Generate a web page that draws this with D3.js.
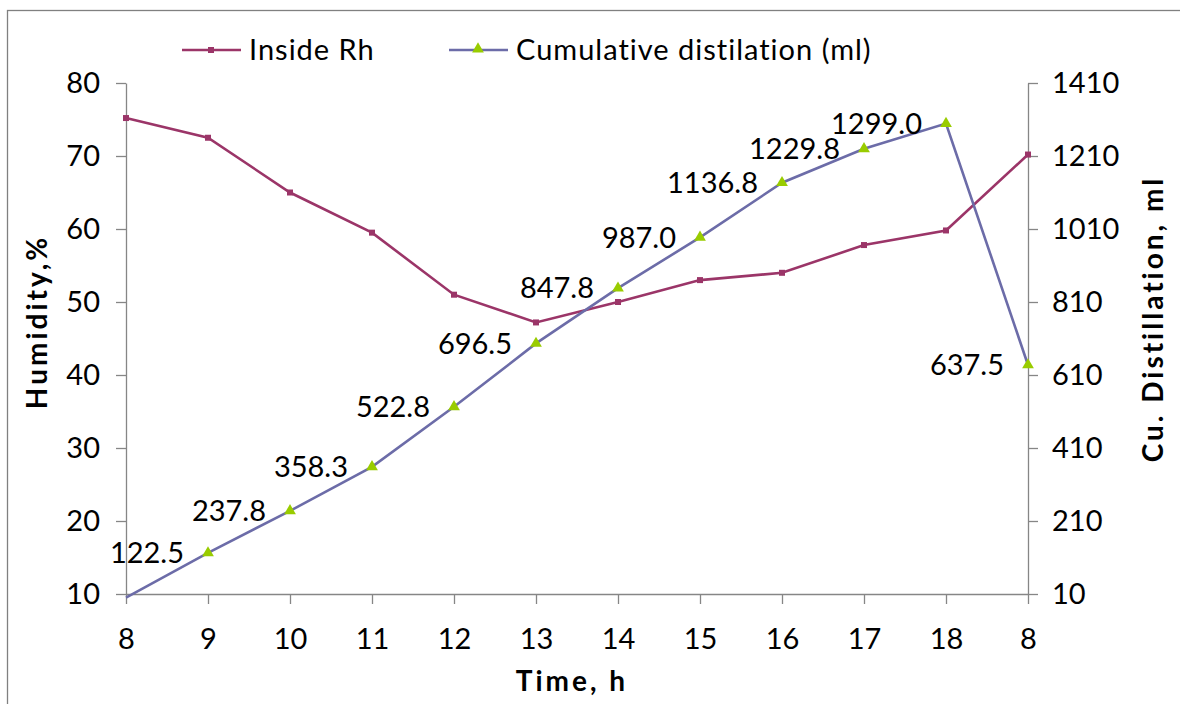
<!DOCTYPE html>
<html>
<head>
<meta charset="utf-8">
<script src="https://cdn.jsdelivr.net/npm/d3@7"></script>
<style>
  body { margin: 0; background: #fff; }
  svg text { font-family: Lato, "Open Sans", sans-serif; fill: #000; }
</style>
</head>
<body>
<div id="chart"></div>
<script>
// categories: time of day (last one is 8 next morning)
var hours = ["8", "9", "10", "11", "12", "13", "14", "15", "16", "17", "18", "8"];
var insideRh = [75.2, 72.5, 65.0, 59.5, 51.0, 47.2, 50.0, 53.0, 54.0, 57.8, 59.8, 70.2];
var distillation = [0, 122.5, 237.8, 358.3, 522.8, 696.5, 847.8, 987.0, 1136.8, 1229.8, 1299.0, 637.5];
var leftTicks = [10, 20, 30, 40, 50, 60, 70, 80];
var rightTicks = [10, 210, 410, 610, 810, 1010, 1210, 1410];

var width = 1180, height = 704;
var plotLeft = 126, plotRight = 1028, plotTop = 83, plotBottom = 594;

var rhColor = "#9b3568";
var distColor = "#6c6ca8";
var triColor = "#99cc00";
var axisColor = "#868686";

var svg = d3.select("#chart").append("svg")
    .attr("width", width)
    .attr("height", height);

// outer frame
svg.append("rect")
    .attr("x", 7.5).attr("y", 10.5)
    .attr("width", width).attr("height", height)
    .attr("fill", "none")
    .attr("stroke", "#808080")
    .attr("stroke-width", 1.3);

var x = d3.scalePoint()
    .domain(d3.range(hours.length))
    .range([plotLeft, plotRight]);

var yLeft = d3.scaleLinear().domain([10, 80]).range([plotBottom, plotTop]);
var yRight = d3.scaleLinear().domain([10, 1410]).range([plotBottom, plotTop]);

// axes
var xAxis = d3.axisBottom(x)
    .tickSize(10)
    .tickSizeOuter(0)
    .tickPadding(26)
    .tickFormat(function(i) { return hours[i]; });

var gx = svg.append("g")
    .attr("transform", "translate(0," + plotBottom + ")")
    .call(xAxis);

var gl = svg.append("g")
    .attr("transform", "translate(" + plotLeft + ",0)")
    .call(d3.axisLeft(yLeft).tickValues(leftTicks).tickSize(10).tickSizeOuter(0).tickPadding(16));

var gr = svg.append("g")
    .attr("transform", "translate(" + plotRight + ",0)")
    .call(d3.axisRight(yRight).tickValues(rightTicks).tickFormat(d3.format("d"))
      .tickSize(10).tickSizeOuter(0).tickPadding(14));

[gx, gl, gr].forEach(function(g) {
  g.select(".domain").attr("stroke", axisColor).attr("stroke-width", 1.3);
  g.selectAll(".tick line").attr("stroke", axisColor).attr("stroke-width", 1.3);
  g.selectAll(".tick text")
      .style("font-family", "Lato, 'Open Sans', sans-serif")
      .attr("font-size", 29)
      .attr("fill", "#000");
});
gx.selectAll(".tick text").attr("dy", "0.66em");

// humidity line
var lineRh = d3.line()
    .x(function(d, i) { return x(i); })
    .y(function(d) { return yLeft(d); });

svg.append("path")
    .datum(insideRh)
    .attr("d", lineRh)
    .attr("fill", "none")
    .attr("stroke", rhColor)
    .attr("stroke-width", 2.6);

svg.selectAll(".rh-mark")
    .data(insideRh)
    .enter().append("rect")
    .attr("class", "rh-mark")
    .attr("x", function(d, i) { return x(i) - 3; })
    .attr("y", function(d) { return yLeft(d) - 3; })
    .attr("width", 6).attr("height", 6)
    .attr("fill", rhColor);

// distillation line
var lineDist = d3.line()
    .x(function(d, i) { return x(i); })
    .y(function(d) { return yRight(d); });

svg.append("path")
    .datum(distillation)
    .attr("d", lineDist)
    .attr("fill", "none")
    .attr("stroke", distColor)
    .attr("stroke-width", 2.6);

var tri = d3.symbol().type(d3.symbolTriangle).size(60);

var shown = distillation.map(function(d, i) { return {v: d, i: i}; })
    .filter(function(d) { return d.v >= 10; });

svg.selectAll(".dist-mark")
    .data(shown)
    .enter().append("path")
    .attr("class", "dist-mark")
    .attr("d", tri)
    .attr("transform", function(d) { return "translate(" + x(d.i) + "," + yRight(d.v) + ")"; })
    .attr("fill", triColor);

svg.selectAll(".dist-label")
    .data(shown)
    .enter().append("text")
    .attr("class", "dist-label")
    .attr("x", function(d) { return x(d.i) - 24; })
    .attr("y", function(d) { return yRight(d.v); })
    .attr("dy", "0.35em")
    .attr("text-anchor", "end")
    .attr("font-size", 29)
    .text(function(d) { return d.v.toFixed(1); });

// axis titles
svg.append("text")
    .attr("transform", "translate(47,322) rotate(-90)")
    .attr("text-anchor", "middle")
    .attr("font-size", 28)
    .attr("font-weight", "bold")
    .attr("letter-spacing", 3)
    .text("Humidity,%");

svg.append("text")
    .attr("transform", "translate(1163,319) rotate(-90)")
    .attr("text-anchor", "middle")
    .attr("font-size", 28)
    .attr("font-weight", "bold")
    .attr("letter-spacing", 3)
    .text("Cu. Distillation, ml");

svg.append("text")
    .attr("x", 572).attr("y", 691)
    .attr("text-anchor", "middle")
    .attr("font-size", 28)
    .attr("font-weight", "bold")
    .attr("letter-spacing", 3)
    .text("Time, h");

// legend
var legend = svg.append("g");
var items = [
  {name: "Inside Rh", x: 182, color: rhColor, mark: "square"},
  {name: "Cumulative distilation (ml)", x: 449, color: distColor, mark: "tri"}
];
items.forEach(function(it) {
  legend.append("line")
      .attr("x1", it.x).attr("x2", it.x + 59)
      .attr("y1", 50).attr("y2", 50)
      .attr("stroke", it.color)
      .attr("stroke-width", 2.6);
  if (it.mark == "square") {
    legend.append("rect")
        .attr("x", it.x + 26).attr("y", 47)
        .attr("width", 6).attr("height", 6)
        .attr("fill", it.color);
  } else {
    legend.append("path")
        .attr("d", tri)
        .attr("transform", "translate(" + (it.x + 29) + ",49)")
        .attr("fill", triColor);
  }
  legend.append("text")
      .attr("x", it.x + 67).attr("y", 50)
      .attr("dy", "0.35em")
      .attr("font-size", 29)
      .attr("letter-spacing", 1)
      .text(it.name);
});
</script>
</body>
</html>
